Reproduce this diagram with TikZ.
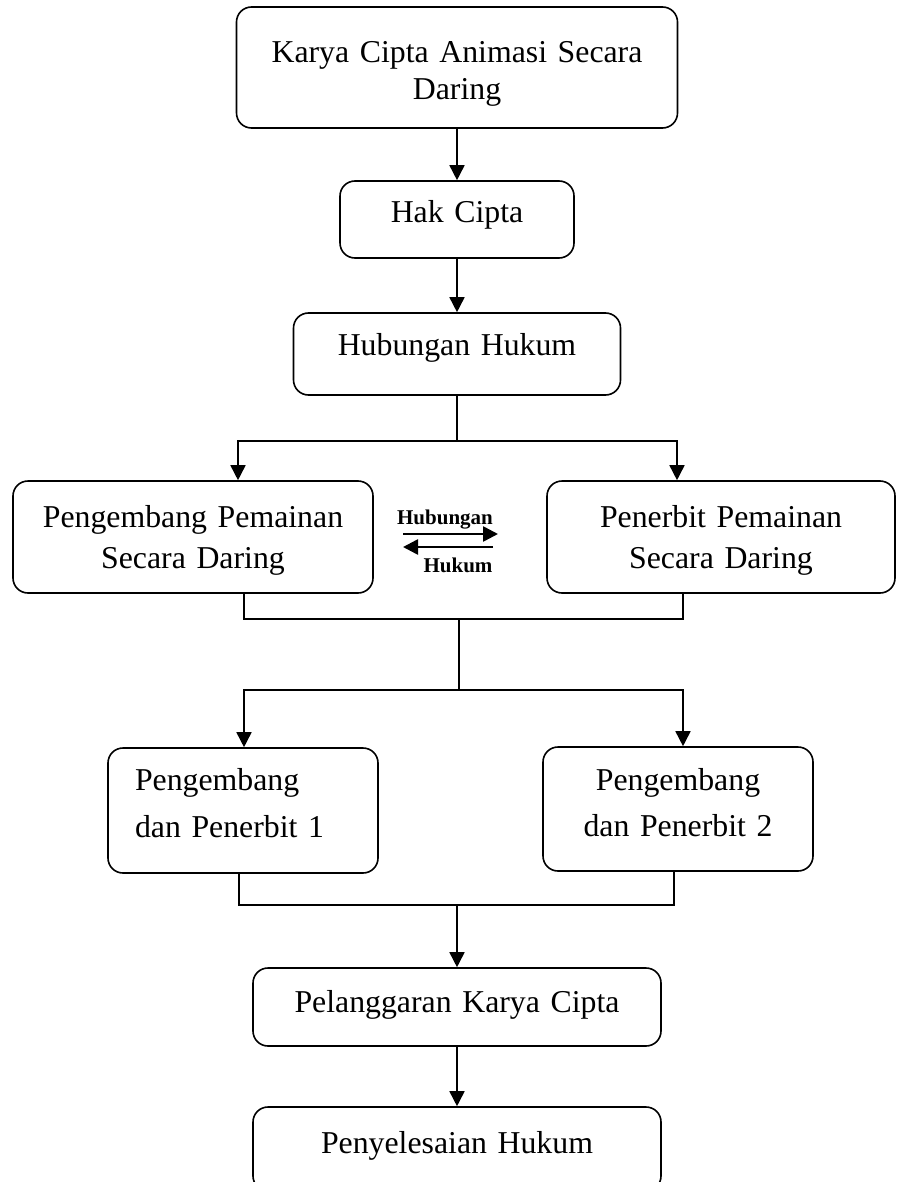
\documentclass[tikz,border=0pt]{standalone}
\usepackage{fontspec}
\setmainfont{Liberation Serif}
\usetikzlibrary{arrows.meta}
\tikzset{
  box/.style={draw, line width=1.6pt, rounded corners=15pt, inner xsep=0pt, inner ysep=0pt, align=center, font=\fontsize{31.8}{37}\selectfont},
  arr/.style={line width=1.6pt, -{Triangle[width=15pt,length=15pt]}},
  conn/.style={line width=1.6pt},
  small/.style={font=\fontsize{21}{25}\selectfont\bfseries, inner sep=0pt}
}

\begin{document}
\begin{tikzpicture}[x=1pt,y=-1pt]
  %%%%% START %%%%%
  \useasboundingbox (0,0) rectangle (896,1182);

  \node[box, text width=441pt, text height=56pt, text depth=65pt] (karya) at (457,67.5) {Karya Cipta Animasi Secara\\Daring};
  \node[box, text width=234pt, text height=42pt, text depth=35pt] (hak) at (457,219.5) {Hak Cipta};
  \node[box, text width=327pt, text height=42pt, text depth=40pt] (hub) at (457,354) {Hubungan Hukum};

  \node[box, text width=360pt, text height=46pt, text depth=66pt, font=\fontsize{31.8}{41}\selectfont] (dev) at (193,537) {Pengembang Pemainan\\Secara Daring};
  \node[box, text width=348pt, text height=46pt, text depth=66pt, font=\fontsize{31.8}{41}\selectfont] (pub) at (721,537) {Penerbit Pemainan\\Secara Daring};

  \node[box, text width=216pt, inner xsep=27pt, align=left, text height=42pt, text depth=83pt, font=\fontsize{31.8}{47}\selectfont] (dev1) at (243,810.5) {Pengembang\\dan Penerbit 1};
  \node[box, text width=270pt, text height=43pt, text depth=81pt, font=\fontsize{31.8}{46}\selectfont] (dev2) at (678,809) {Pengembang\\dan Penerbit 2};

  \node[box, text width=408pt, text height=44pt, text depth=34pt] (pel) at (457,1007) {Pelanggaran Karya Cipta};
  \node[box, text width=408pt, text height=46pt, text depth=38pt] (pen) at (457,1149) {Penyelesaian Hukum};

  % lines between the boxes
  \draw[arr] (karya) -- (hak);
  \draw[arr] (hak) -- (hub);

  \coordinate (s1l) at (238,441);
  \coordinate (s1r) at (677,441);
  \draw[conn] (hub.south) -- (hub.south |- s1l);
  \draw[arr] (hub.south |- s1l) -- (s1l) -- (s1l |- dev.north);
  \draw[arr] (hub.south |- s1l) -- (s1r) -- (s1r |- pub.north);

  \coordinate (d1) at (244,619);
  \coordinate (d2) at (683,619);
  \coordinate (m1) at (459,619);
  \draw[conn] (d1 |- dev.south) -- (d1) -- (d2) -- (d2 |- pub.south);

  \coordinate (s2l) at (244,690);
  \coordinate (s2r) at (683,690);
  \draw[conn] (m1) -- (m1 |- s2l);
  \draw[arr] (m1 |- s2l) -- (s2l) -- (s2l |- dev1.north);
  \draw[arr] (m1 |- s2l) -- (s2r) -- (s2r |- dev2.north);

  \coordinate (e1) at (239,905);
  \coordinate (e2) at (674,905);
  \draw[conn] (e1 |- dev1.south) -- (e1) -- (e2) -- (e2 |- dev2.south);
  \draw[arr] (pel.north |- e1) -- (pel.north);
  \draw[arr] (pel) -- (pen);

  % two way relation in the middle
  \coordinate (ha) at (403,534);
  \coordinate (hb) at (498,534);
  \coordinate (hc) at (493,547);
  \coordinate (hd) at (403,547);
  \draw[arr, line width=2.6pt] (ha) -- (hb);
  \draw[arr, line width=2.6pt] (hc) -- (hd);
  \node[small, anchor=base] (hubtxt) at (445,524) {Hubungan};
  \node[small, anchor=base] (huktxt) at (458,572) {Hukum};
  %%%%% END %%%%%
\end{tikzpicture}
\end{document}
